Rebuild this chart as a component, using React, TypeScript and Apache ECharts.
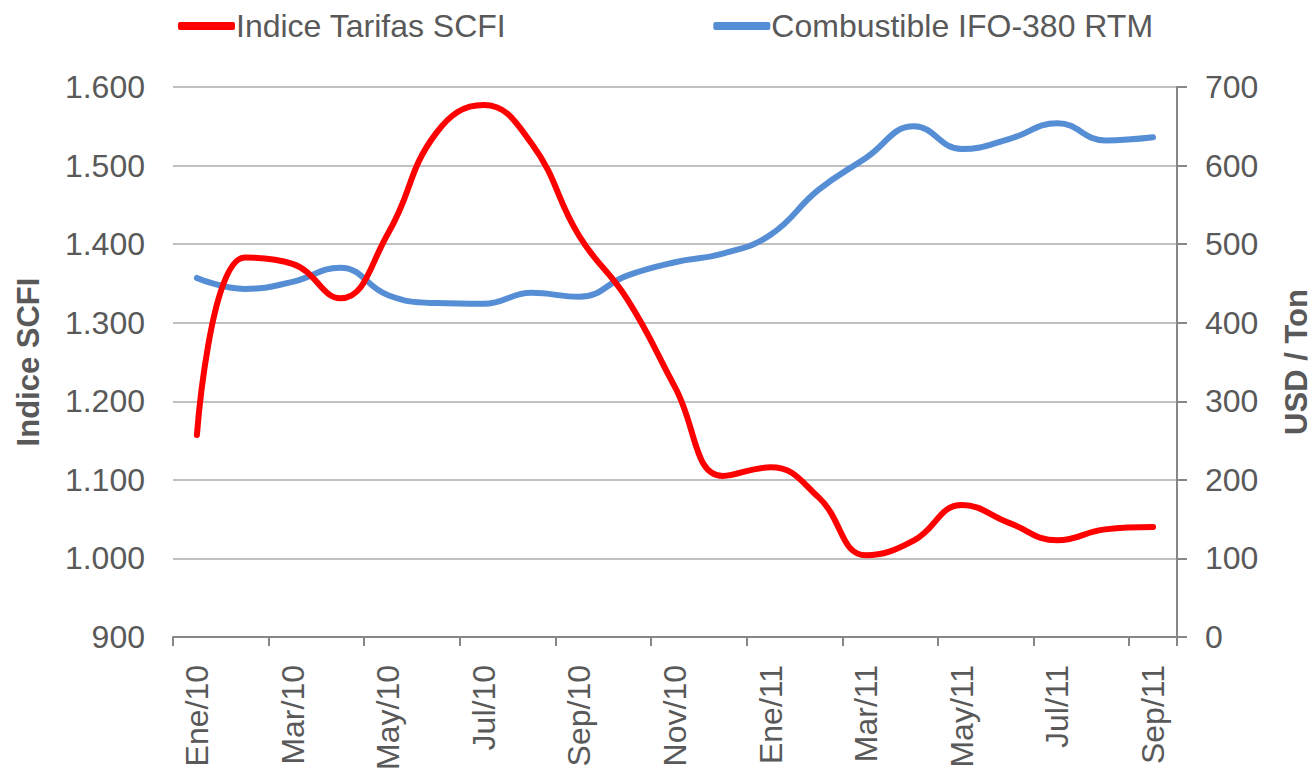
import React, { useEffect, useRef } from "react";
import * as echarts from "echarts";

const months = [
  "Ene/10", "Feb/10", "Mar/10", "Abr/10", "May/10", "Jun/10", "Jul/10", "Ago/10", "Sep/10", "Oct/10", "Nov/10", "Dic/10",
  "Ene/11", "Feb/11", "Mar/11", "Abr/11", "May/11", "Jun/11", "Jul/11", "Ago/11", "Sep/11",
];

const scfi = [1157, 1383, 1375, 1331, 1414, 1541, 1577, 1528, 1410, 1330, 1218, 1105, 1116, 1078, 1004, 1023, 1068, 1045, 1023, 1037, 1040];

const ifo380 = [457, 443, 452, 470, 435, 425, 424, 438, 433, 460, 477, 488, 512, 569, 610, 650, 621, 634, 654, 632, 636];

const seriesNames = ["Indice Tarifas SCFI", "Combustible IFO-380 RTM"];
const axisNames = ["Indice SCFI", "USD / Ton"];

const FONT = "'Liberation Sans', Arial, sans-serif";
const GRAY = "#595959";

const fmtThousands = (v: number) => {
  const s = String(Math.round(v));
  return s.replace(/\B(?=(\d{3})+(?!\d))/g, ".");
};

export default function App() {
  const ref = useRef<HTMLDivElement>(null);

  useEffect(() => {
    if (!ref.current) return;
    const chart = echarts.init(ref.current, undefined, { renderer: "svg" });
    chart.setOption({
      animation: false,
      backgroundColor: "#ffffff",
      textStyle: { fontFamily: FONT },
      legend: {
        left: 173,
        top: 5,
        itemWidth: 57,
        itemHeight: 8,
        itemGap: 207,
        icon: "roundRect",
        textStyle: { fontSize: 32, color: GRAY, fontFamily: FONT, padding: [0, 0, 0, -4] },
        data: seriesNames,
      },
      grid: { left: 173, right: 136, top: 87, bottom: 131, containLabel: false, outerBoundsMode: "none" },
      xAxis: {
        type: "category",
        data: months,
        boundaryGap: true,
        axisLine: { show: true, lineStyle: { color: "#878787", width: 2 } },
        axisTick: { show: true, interval: 1, length: 9, lineStyle: { color: "#878787", width: 2 } },
        axisLabel: {
          interval: 1,
          rotate: 90,
          margin: 28,
          fontSize: 32,
          color: GRAY,
          fontFamily: FONT,
        },
        splitLine: { show: false },
      },
      yAxis: [
        {
          type: "value",
          min: 900,
          max: 1600,
          interval: 100,
          name: axisNames[0],
          nameLocation: "middle",
          nameRotate: 90,
          nameGap: 129,
          nameTextStyle: { fontSize: 31, fontWeight: "bold", color: GRAY, fontFamily: FONT },
          axisLine: { show: false },
          axisTick: { show: false },
          axisLabel: { fontSize: 32, color: GRAY, margin: 28, fontFamily: FONT, formatter: (v: number) => fmtThousands(v) },
          splitLine: { show: true, lineStyle: { color: "#c0c0c0", width: 2 } },
        },
        {
          type: "value",
          min: 0,
          max: 700,
          interval: 100,
          position: "right",
          name: axisNames[1],
          nameLocation: "middle",
          nameRotate: 90,
          nameGap: 104,
          nameTextStyle: { fontSize: 31, fontWeight: "bold", color: GRAY, fontFamily: FONT },
          axisLine: { show: true, lineStyle: { color: "#878787", width: 2 } },
          axisTick: { show: true, length: 10, lineStyle: { color: "#878787", width: 2 } },
          axisLabel: { fontSize: 32, color: GRAY, margin: 28, fontFamily: FONT },
          splitLine: { show: false },
        },
      ],
      series: [
        {
          name: seriesNames[0],
          type: "line",
          yAxisIndex: 0,
          data: scfi,
          smooth: 0.45,
          symbol: "none",
          itemStyle: { color: "#ff0000" },
          lineStyle: { color: "#ff0000", width: 6, cap: "round", join: "round" },
          z: 3,
        },
        {
          name: seriesNames[1],
          type: "line",
          yAxisIndex: 1,
          data: ifo380,
          smooth: 0.45,
          symbol: "none",
          itemStyle: { color: "#558ed5" },
          lineStyle: { color: "#558ed5", width: 6, cap: "round", join: "round" },
          z: 2,
        },
      ],
    });
    return () => chart.dispose();
  }, []);

  return (
    <div
      ref={ref}
      style={{ position: "fixed", left: 0, top: 0, width: 1313, height: 768, background: "#fff" }}
    />
  );
}
